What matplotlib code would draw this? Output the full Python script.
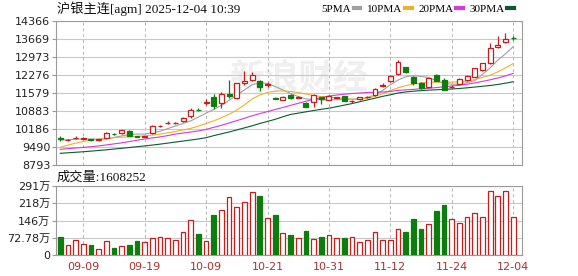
import numpy as np
import matplotlib
matplotlib.use('Agg')
import matplotlib.pyplot as plt
from matplotlib.patches import Rectangle
from matplotlib.lines import Line2D

plt.rcParams['font.family'] = ['DejaVu Sans', 'Noto Sans CJK SC']

# 交易日
dates = ['09-04', '09-05', '09-08', '09-09', '09-10', '09-11', '09-12', '09-15', '09-16', '09-17',
         '09-18', '09-19', '09-22', '09-23', '09-24', '09-25', '09-26', '09-29', '09-30', '10-09',
         '10-10', '10-13', '10-14', '10-15', '10-16', '10-17', '10-20', '10-21', '10-22', '10-23',
         '10-24', '10-27', '10-28', '10-29', '10-30', '10-31', '11-03', '11-04', '11-05', '11-06',
         '11-07', '11-10', '11-11', '11-12', '11-13', '11-14', '11-17', '11-18', '11-19', '11-20',
         '11-21', '11-24', '11-25', '11-26', '11-27', '11-28', '12-01', '12-02', '12-03', '12-04']
tick_dates = ['09-09', '09-19', '10-09', '10-21', '10-31', '11-12', '11-24', '12-04']

opens = [9830, 9750, 9840, 9815, 9780, 9770, 9830, 10000, 10030, 10120,
         9900, 9890, 10020, 10310, 10420, 10410, 10495, 10690, 10930, 11200,
         11413, 11204, 11560, 11380, 11950, 12083, 12044, 11890, 11380, 11309,
         11502, 11380, 11204, 11243, 11413, 11309, 11390, 11450, 11260, 11336,
         11420, 11502, 11860, 12044, 12303, 12574, 12212, 11955, 11824, 12276,
         12083, 11810, 11930, 12083, 12212, 12470, 12730, 13347, 13565, 13720]
highs = [9900, 9800, 9900, 9880, 9800, 9800, 10080, 10050, 10160, 10150,
         9930, 9920, 10330, 10350, 10500, 10460, 10660, 10990, 10980, 11350,
         11530, 11630, 12080, 11980, 12450, 12380, 12100, 12000, 11420, 11476,
         11530, 11460, 11230, 11530, 11440, 11500, 11440, 11480, 11290, 11430,
         11470, 11760, 11950, 12270, 12860, 12600, 12240, 11990, 12170, 12310,
         12150, 11870, 12170, 12260, 12560, 12750, 13500, 13786, 13890, 13780]
lows = [9720, 9730, 9800, 9780, 9740, 9740, 9800, 9950, 10000, 9900,
        9860, 9870, 10000, 10280, 10380, 10380, 10460, 10600, 10880, 11100,
        10960, 10998, 11380, 11330, 11900, 12050, 11670, 11830, 11330, 11290,
        11360, 11370, 11030, 11050, 11140, 11290, 11370, 11260, 11200, 11320,
        11400, 11480, 11820, 12020, 12280, 12350, 11900, 11740, 11800, 12030,
        11680, 11760, 11900, 12050, 12190, 12440, 12700, 13330, 13502, 13620]
closes = [9800, 9770, 9850, 9825, 9765, 9780, 10040, 9990, 10130, 9920,
          9885, 9900, 10300, 10320, 10430, 10425, 10620, 10935, 10915, 11215,
          11077, 11530, 11460, 11950, 12030, 12276, 11824, 11910, 11360, 11437,
          11374, 11420, 11049, 11500, 11336, 11463, 11410, 11280, 11275, 11413,
          11440, 11723, 11890, 12238, 12791, 12380, 11955, 11760, 12148, 12056,
          11695, 11830, 12110, 12238, 12535, 12730, 13310, 13437, 13669, 13690]

ma5 = [9760, 9770, 9790, 9800, 9800, 9790, 9810, 9860, 9920, 9970,
       9990, 9990, 10040, 10100, 10200, 10300, 10400, 10500, 10650, 10800,
       10950, 11100, 11300, 11500, 11700, 11900, 11980, 11950, 11830, 11700,
       11560, 11440, 11350, 11330, 11320, 11310, 11320, 11330, 11340, 11360,
       11400, 11500, 11680, 11900, 12080, 12210, 12250, 12220, 12180, 12050,
       11950, 11920, 11920, 11980, 12060, 12300, 12550, 12850, 13100, 13370]
ma10 = [9480, 9560, 9640, 9700, 9760, 9790, 9820, 9850, 9870, 9880,
        9900, 9920, 9950, 9990, 10040, 10090, 10150, 10210, 10300, 10400,
        10500, 10620, 10760, 10920, 11120, 11350, 11500, 11600, 11650, 11660,
        11640, 11600, 11540, 11480, 11440, 11420, 11390, 11360, 11340, 11340,
        11380, 11450, 11560, 11680, 11780, 11860, 11930, 11970, 11990, 12000,
        12000, 12000, 12010, 12040, 12100, 12180, 12270, 12400, 12550, 12720]
ma20 = [9400, 9425, 9450, 9475, 9500, 9530, 9570, 9610, 9650, 9700,
        9750, 9800, 9840, 9880, 9930, 9990, 10030, 10070, 10110, 10170,
        10250, 10330, 10420, 10510, 10600, 10700, 10780, 10860, 10940, 11020,
        11100, 11180, 11260, 11330, 11400, 11460, 11500, 11530, 11560, 11580,
        11600, 11610, 11620, 11640, 11680, 11700, 11720, 11740, 11760, 11790,
        11820, 11850, 11880, 11920, 11970, 12030, 12090, 12160, 12240, 12340]
ma30 = [9245, 9265, 9285, 9305, 9330, 9355, 9380, 9410, 9440, 9470,
        9500, 9530, 9565, 9600, 9640, 9680, 9720, 9760, 9800, 9850,
        9930, 10000, 10070, 10150, 10230, 10310, 10400, 10480, 10560, 10660,
        10750, 10800, 10850, 10900, 10950, 10990, 11050, 11110, 11170, 11240,
        11310, 11380, 11450, 11510, 11580, 11620, 11650, 11670, 11690, 11705,
        11720, 11735, 11755, 11780, 11810, 11840, 11870, 11910, 11960, 12015]

# 成交量 (万手)
volumes = [74, 44, 64, 48, 44, 27, 60, 31, 36, 44,
           61, 53, 72, 77, 72, 65, 95, 149, 87, 57,
           168, 189, 244, 202, 222, 264, 249, 158, 168, 94,
           85, 71, 102, 68, 77, 85, 72, 72, 77, 53,
           64, 98, 64, 64, 111, 98, 153, 111, 132, 187,
           213, 153, 133, 162, 179, 162, 268, 248, 268, 160.8252]
vol_up = [0, 1, 1, 1, 0, 1, 1, 0, 1, 0,
          0, 1, 1, 1, 1, 1, 1, 1, 0, 1,
          0, 1, 1, 1, 1, 1, 0, 1, 0, 1,
          0, 1, 0, 1, 0, 1, 1, 0, 1, 1,
          1, 1, 1, 1, 1, 0, 0, 0, 1, 0,
          0, 1, 1, 1, 1, 1, 1, 1, 1, 1]

price_ticks = [8793, 9490, 10186, 10883, 11579, 12276, 12973, 13669, 14366]
vol_ticks = [0, 72.78, 145.56, 218.34, 291.12]
vol_tick_labels = ['0', '72.78万', '146万', '218万', '291万']

red = '#c41e1e'
green = '#0d7d0d'
ma_colors = ['#a0a0a0', '#e8b42a', '#d23cd2', '#0b5a32']
grid_c = '#c8c8c8'
spine_c = '#9a9a9a'

fig = plt.figure(figsize=(5.78, 2.76), dpi=100)
ax = fig.add_axes([56 / 578, 111 / 276, 466 / 578, 144 / 276])
axv = fig.add_axes([56 / 578, 21 / 276, 466 / 578, 69 / 276], sharex=ax)

x = np.arange(len(dates))
tick_pos = [dates.index(d) for d in tick_dates]

# 水印
ax.text(0.52, 0.6, '新浪财经', transform=ax.transAxes, fontsize=25, color='#efefef',
        ha='center', va='center', fontweight='bold', zorder=0,
        family=['Noto Sans CJK SC'])

# K线
for i in x:
    o, h, l, c = opens[i], highs[i], lows[i], closes[i]
    col = red if c >= o else green
    ax.vlines(i, l, h, color=col, lw=0.9, zorder=3)
    lo, hi = min(o, c), max(o, c)
    ax.add_patch(Rectangle((i - 0.32, lo), 0.64, hi - lo,
                           facecolor='white' if c >= o else green,
                           edgecolor=col, lw=0.9, zorder=4))

for ma, col in zip([ma5, ma10, ma20, ma30], ma_colors):
    ax.plot(x, ma, color=col, lw=0.8, zorder=2)

ax.set_xlim(-0.55, 60.15)
ax.set_ylim(price_ticks[0], price_ticks[-1])
ax.set_yticks(price_ticks)
ax.set_yticklabels([str(t) for t in price_ticks])
ax.grid(axis='y', color=grid_c, lw=0.8)
ax.set_xticks(tick_pos)
ax.grid(axis='x', color='#b4b4b4', lw=0.7, ls=(0, (3, 3)))
ax.tick_params(axis='x', length=0, labelbottom=False)
ax.tick_params(axis='y', length=3, color=spine_c, labelsize=8, labelcolor='#222222', pad=1)
for s in ax.spines.values():
    s.set_color(spine_c)

# 成交量
axv.bar(x, volumes, width=0.62,
        color=['white' if u else green for u in vol_up],
        edgecolor=[red if u else green for u in vol_up], lw=0.9, zorder=3)
axv.set_ylim(0, vol_ticks[-1])
axv.set_yticks(vol_ticks)
axv.set_yticklabels(vol_tick_labels)
axv.grid(axis='y', color=grid_c, lw=0.8)
axv.set_xticks(tick_pos)
axv.set_xticklabels(tick_dates)
axv.grid(axis='x', color='#b4b4b4', lw=0.7, ls=(0, (3, 3)))
axv.tick_params(axis='x', length=0, labelsize=8, labelcolor='#a83232', pad=5)
axv.tick_params(axis='y', length=3, color=spine_c, labelsize=8, labelcolor='#222222', pad=1)
for s in axv.spines.values():
    s.set_color(spine_c)

# 标题 / 图例
serif_cjk = ['Liberation Serif', 'Noto Sans CJK SC']
fig.text(57 / 578, 1 - 9 / 276, '沪银主连[agm] 2025-12-04 10:39', fontsize=9.5,
         family=serif_cjk, va='center', ha='left', color='#111111')
fig.text(57 / 578, 1 - 178 / 276, '成交量:1608252', fontsize=9.5,
         family=serif_cjk, va='center', ha='left', color='#111111')

handles = [Line2D([], [], color=c, lw=3) for c in ma_colors]
leg = ax.legend(handles, ['5PMA', '10PMA', '20PMA', '30PMA'], ncol=4, markerfirst=False,
                frameon=False, loc='center right', bbox_to_anchor=(514 / 578, 1 - 9 / 276),
                bbox_transform=fig.transFigure, handlelength=0.6, handletextpad=0.25,
                columnspacing=0.6, borderpad=0, borderaxespad=0,
                prop={'family': 'Liberation Serif', 'size': 8})

fig.savefig('out.png', dpi=100)
